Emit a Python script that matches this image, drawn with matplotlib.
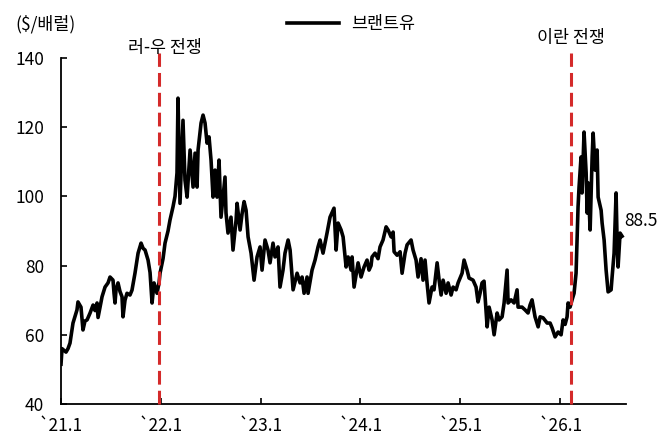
import numpy as np
import matplotlib
matplotlib.use('Agg')
import matplotlib.pyplot as plt
from matplotlib.lines import Line2D

plt.rcParams['font.family'] = ['Noto Sans CJK KR', 'DejaVu Sans']
plt.rcParams['axes.unicode_minus'] = False

# Brent price: time in years after Jan 2021, $/bbl
t_years = [0.000, 0.010, 0.030, 0.050, 0.070, 0.090, 0.120, 0.160, 0.170, 0.200,
           0.220, 0.240, 0.261, 0.291, 0.321, 0.341, 0.361, 0.371, 0.391, 0.411,
           0.441, 0.471, 0.491, 0.521, 0.531, 0.541, 0.551, 0.571, 0.591, 0.611,
           0.621, 0.641, 0.661, 0.691, 0.711, 0.741, 0.772, 0.802, 0.822, 0.842,
           0.872, 0.892, 0.912, 0.932, 0.962, 0.982, 0.992, 1.022, 1.042, 1.072,
           1.092, 1.122, 1.142, 1.162, 1.172, 1.192, 1.222, 1.242, 1.263, 1.293,
           1.323, 1.343, 1.363, 1.373, 1.403, 1.423, 1.443, 1.463, 1.483, 1.503,
           1.523, 1.543, 1.563, 1.583, 1.603, 1.623, 1.643, 1.653, 1.673, 1.703,
           1.723, 1.754, 1.764, 1.794, 1.814, 1.834, 1.854, 1.874, 1.904, 1.934,
           1.964, 1.994, 2.014, 2.044, 2.074, 2.094, 2.124, 2.144, 2.174, 2.194,
           2.224, 2.244, 2.275, 2.295, 2.325, 2.365, 2.395, 2.415, 2.435, 2.465,
           2.475, 2.515, 2.545, 2.575, 2.595, 2.625, 2.665, 2.695, 2.735, 2.756,
           2.776, 2.806, 2.826, 2.856, 2.876, 2.906, 2.916, 2.936, 2.976, 3.006,
           3.036, 3.066, 3.086, 3.106, 3.116, 3.146, 3.176, 3.196, 3.226, 3.257,
           3.277, 3.307, 3.327, 3.337, 3.367, 3.397, 3.417, 3.447, 3.467, 3.507,
           3.527, 3.557, 3.577, 3.607, 3.627, 3.647, 3.667, 3.687, 3.717, 3.737,
           3.768, 3.788, 3.808, 3.828, 3.858, 3.878, 3.908, 3.928, 3.958, 3.978,
           4.018, 4.038, 4.068, 4.088, 4.128, 4.158, 4.178, 4.198, 4.218, 4.238,
           4.269, 4.289, 4.319, 4.339, 4.369, 4.389, 4.419, 4.439, 4.469, 4.479,
           4.509, 4.539, 4.569, 4.579, 4.619, 4.649, 4.679, 4.699, 4.719, 4.749,
           4.780, 4.800, 4.830, 4.870, 4.900, 4.920, 4.950, 4.980, 5.010, 5.030,
           5.050, 5.070, 5.080, 5.100, 5.120, 5.140, 5.160, 5.180, 5.190, 5.210,
           5.220, 5.240, 5.261, 5.271, 5.281, 5.301, 5.321, 5.331, 5.351, 5.371,
           5.381, 5.411, 5.421, 5.441, 5.461, 5.481, 5.511, 5.521, 5.541, 5.561,
           5.571, 5.581, 5.601, 5.621]
brent = [51.5, 56.0, 55.5, 55.0, 56.0, 57.6, 63.4, 67.2, 69.5, 68.0,
         61.4, 64.0, 64.3, 66.3, 68.6, 67.0, 69.2, 65.0, 68.0, 71.0,
         73.8, 75.0, 76.7, 75.8, 72.0, 69.2, 73.0, 75.0, 72.5, 71.0,
         65.2, 70.0, 72.0, 71.5, 72.9, 77.8, 83.6, 86.5, 85.0, 84.5,
         81.6, 78.0, 69.2, 75.0, 72.0, 75.0, 77.8, 82.0, 86.5, 90.0,
         93.2, 97.0, 100.0, 106.8, 128.4, 98.0, 122.0, 104.7, 99.8, 113.4,
         102.7, 112.5, 102.7, 113.4, 121.2, 123.5, 121.2, 115.4, 117.2, 110.5,
         99.8, 107.6, 99.8, 110.5, 94.0, 99.8, 105.6, 95.2, 89.4, 94.0,
         84.5, 93.2, 98.0, 90.3, 95.0, 98.5, 96.0, 88.3, 83.6, 75.8,
         82.5, 85.4, 78.7, 87.4, 84.5, 80.8, 86.5, 82.5, 85.4, 73.8,
         78.7, 83.6, 87.4, 84.5, 73.0, 77.8, 75.0, 76.7, 72.0, 76.7,
         72.0, 78.7, 81.6, 85.4, 87.4, 83.6, 89.4, 94.0, 96.6, 84.5,
         92.3, 90.3, 88.3, 79.6, 82.5, 78.7, 82.5, 73.8, 80.8, 76.7,
         79.6, 81.6, 78.7, 80.0, 82.5, 83.6, 82.0, 85.4, 87.4, 91.2,
         90.3, 88.3, 89.7, 84.0, 83.0, 84.0, 77.8, 83.6, 86.0, 87.4,
         84.5, 81.6, 76.7, 82.0, 75.8, 81.6, 75.0, 69.2, 73.8, 73.0,
         80.8, 75.8, 71.5, 75.8, 72.0, 75.0, 71.5, 73.8, 73.0, 75.0,
         77.8, 81.6, 78.7, 76.4, 75.8, 73.8, 69.5, 72.0, 75.0, 75.5,
         62.3, 68.0, 64.3, 60.0, 66.3, 64.3, 65.2, 69.2, 78.7, 69.2,
         70.1, 69.2, 73.0, 68.0, 68.0, 67.2, 66.3, 68.6, 70.1, 65.2,
         62.3, 65.2, 64.9, 63.4, 63.4, 62.0, 59.4, 60.8, 60.0, 64.3,
         63.0, 65.2, 69.2, 68.0, 70.1, 72.0, 77.8, 97.0, 102.7, 111.4,
         101.0, 118.6, 106.8, 95.2, 103.9, 90.3, 111.4, 118.3, 107.6, 113.4,
         99.8, 96.0, 92.3, 87.4, 78.7, 72.4, 73.0, 76.7, 83.6, 101.0,
         87.4, 79.6, 89.4, 88.5]

x_ticks = [2021, 2022, 2023, 2024, 2025, 2026]
x_labels = ['`21.1', '`22.1', '`23.1', '`24.1', '`25.1', '`26.1']
y_ticks = [40, 60, 80, 100, 120, 140]
events = [2021.979, 2026.110]
event_labels = ['러-우 전쟁', '이란 전쟁']
last_label = '88.5'

x = 2021 + np.array(t_years)

fig = plt.figure(figsize=(6.72, 4.48), dpi=100)
ax = fig.add_axes([0.0908, 0.0982, 0.8407, 0.7723])

ax.plot(x, brent, color='black', lw=2.6, solid_joinstyle='round')

red = '#d42a2a'
for ex in events:
    ax.plot([ex, ex], [40, 141.5], color=red, lw=2.2, dashes=(4.5, 2.0), clip_on=False, zorder=3)

fs = 12.5
ax.text(2022.037, 143.0, event_labels[0], ha='center', va='center', fontsize=fs, clip_on=False)
ax.text(2026.110, 145.8, event_labels[1], ha='center', va='center', fontsize=fs, clip_on=False)
ax.text(2026.641, 93.0, last_label, ha='left', va='center', fontsize=fs, clip_on=False)

ax.set_xlim(2021, 2026.66)
ax.set_ylim(40, 140)
ax.set_xticks(x_ticks)
ax.set_xticklabels(x_labels)
ax.set_yticks(y_ticks)
ax.tick_params(axis='both', direction='in', length=4, width=1.2, labelsize=fs)
ax.tick_params(axis='y', pad=12)
ax.tick_params(axis='x', pad=9)
for s in ['top', 'right']:
    ax.spines[s].set_visible(False)
for s in ['left', 'bottom']:
    ax.spines[s].set_linewidth(1.3)

fig.text(15 / 672, 1 - 24 / 448, '($/배럴)', ha='left', va='center', fontsize=fs)

handle = Line2D([], [], color='black', lw=2.6)
fig.legend([handle], ['브랜트유'], loc='center', bbox_to_anchor=(0.523, 0.946),
           frameon=False, fontsize=fs, handlelength=3.0, handletextpad=0.7)

fig.savefig('out.png', dpi=100)
